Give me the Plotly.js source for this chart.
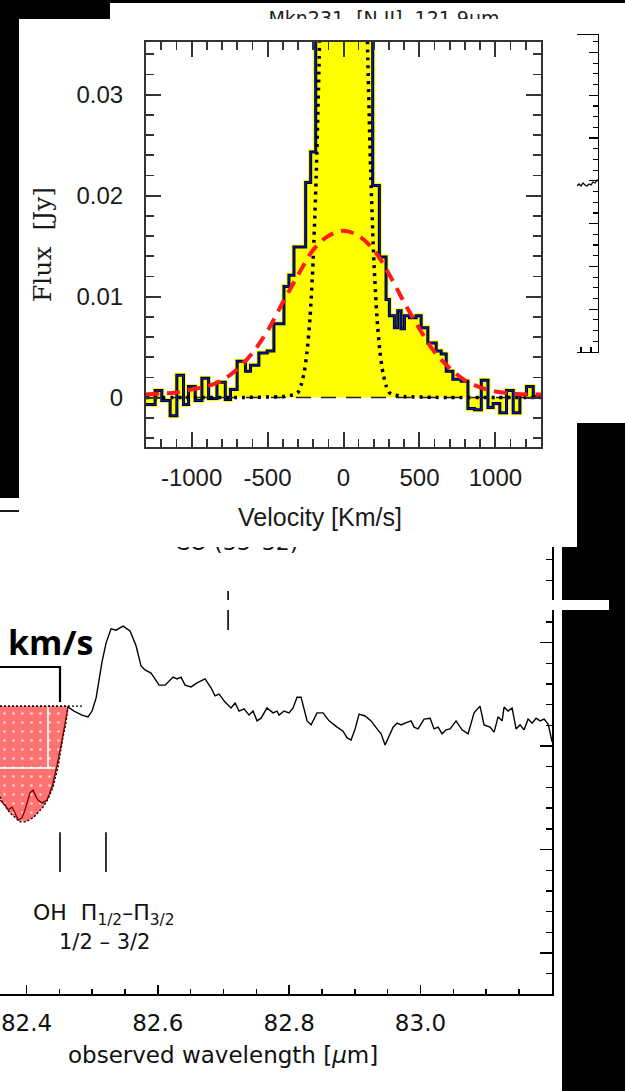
<!DOCTYPE html>
<html><head><meta charset="utf-8">
<script src="https://cdn.plot.ly/plotly-3.0.1.min.js"></script>
<style>html,body{margin:0;padding:0;background:#fff;}#chart{width:625px;height:1091px;}</style>
</head><body><div id="chart"></div>
<script>
// ===== Inset: Mkn231 [N II] 121.9um line profile =====
const histVelocity = [-1300,-1240,-1196,-1141,-1097,-1053,-1020,-976,-932,-888,-833,-778,-744,-700,-645,-612,-557,-502,-458,-392,-359,-326,-249,-216,-183,-140,-95,-50,0,50,95,140,192,236,280,302,335,357,379,401,434,478,511,555,610,643,676,720,775,819,863,907,951,985,1029,1073,1117,1161,1205,1249,1300];
const histFlux = [-0.0007,0.0007,-0.0003,-0.0018,0.0022,-0.0007,0.0011,-0.0003,0.0019,-0.0001,0.0015,-0.0002,0.0008,0.0036,0.0026,0.0032,0.0044,0.0046,0.0073,0.0110,0.0121,0.0149,0.0213,0.0243,0.048,0.085,0.13,0.16,0.16,0.13,0.09,0.05,0.0210,0.0139,0.0097,0.0081,0.0069,0.0086,0.0068,0.0081,0.0079,0.0081,0.0069,0.0054,0.0046,0.0043,0.0026,0.0018,0.0016,-0.0011,-0.0012,0.0017,-0.0010,-0.0006,-0.0015,0.0007,-0.0015,0.0003,0.0011,0.0001,0.0001];
const broadVelocity = [-1300,-1200,-1100,-1000,-900,-800,-700,-600,-500,-400,-300,-200,-100,0,100,200,300,400,500,600,700,800,900,1000,1100,1200,1300];
const broadFlux = [0.0003,0.0004,0.0005,0.0008,0.0011,0.0017,0.0028,0.0044,0.0066,0.0094,0.0121,0.0146,0.0160,0.0165,0.0160,0.0146,0.0122,0.0094,0.0068,0.0045,0.0029,0.0017,0.0010,0.0006,0.0004,0.0003,0.0003];
const narrowVelocity = [-1300,-1000,-700,-400,-320,-300,-280,-260,-240,-220,-200,-180,-160,-140,-120,-100,100,120,140,160,180,200,220,240,260,280,300,320,400,700,1000,1300];
const narrowFlux = [0,0,0,0.0001,0.0003,0.0005,0.0012,0.0024,0.0045,0.0080,0.0135,0.0218,0.0335,0.050,0.069,0.089,0.089,0.069,0.050,0.0335,0.0218,0.0135,0.0080,0.0045,0.0024,0.0012,0.0005,0.0003,0.0001,0,0,0];
const zeroVelocity = [-1300, 1300];
const zeroFlux = [0, 0];
const insetXTicks = [-1000, -500, 0, 500, 1000];
const insetXTickText = ['-1000', '-500', '0', '500', '1000'];
const insetYTicks = [0, 0.01, 0.02, 0.03];
const insetYTickText = ['0', '0.01', '0.02', '0.03'];

// ===== Background spectrum: observed wavelength (um) vs normalised flux =====
const specWavelength = [82.4632,82.4724,82.4845,82.4937,82.4998,82.5059,82.5150,82.5211,82.5287,82.5363,82.5470,82.5577,82.5668,82.5744,82.5805,82.5896,82.5957,82.6018,82.6110,82.6171,82.6232,82.6292,82.6353,82.6414,82.6506,82.6597,82.6719,82.6810,82.6871,82.6932,82.7023,82.7115,82.7176,82.7237,82.7313,82.7389,82.7450,82.7511,82.7572,82.7663,82.7754,82.7815,82.7846,82.7922,82.7998,82.8059,82.8120,82.8181,82.8273,82.8334,82.8425,82.8516,82.8608,82.8730,82.8821,82.8882,82.8943,82.9004,82.9065,82.9156,82.9248,82.9339,82.9400,82.9461,82.9522,82.9583,82.9644,82.9705,82.9766,82.9857,82.9903,82.9963,83.0055,83.0146,83.0207,83.0268,83.0329,83.0390,83.0451,83.0542,83.0633,83.0725,83.0816,83.0907,83.0968,83.1060,83.1121,83.1182,83.1243,83.1273,83.1334,83.1395,83.1456,83.1517,83.1578,83.1639,83.1700,83.1761,83.1822,83.1883,83.1944,83.2005];
const specFlux = [0.642,0.633,0.624,0.620,0.633,0.662,0.743,0.785,0.817,0.814,0.823,0.812,0.779,0.734,0.725,0.718,0.705,0.691,0.691,0.700,0.709,0.705,0.709,0.691,0.687,0.696,0.705,0.685,0.667,0.671,0.653,0.640,0.651,0.633,0.638,0.624,0.633,0.611,0.617,0.640,0.629,0.633,0.624,0.633,0.629,0.640,0.664,0.664,0.611,0.602,0.629,0.629,0.611,0.597,0.588,0.573,0.568,0.593,0.626,0.622,0.611,0.593,0.582,0.557,0.577,0.597,0.606,0.602,0.606,0.611,0.597,0.593,0.615,0.617,0.593,0.597,0.582,0.591,0.593,0.611,0.591,0.582,0.629,0.644,0.602,0.597,0.586,0.620,0.611,0.642,0.633,0.640,0.593,0.602,0.591,0.615,0.606,0.617,0.611,0.615,0.604,0.564];
const absWavelength = [82.3596,82.3673,82.3718,82.3779,82.3825,82.3871,82.3931,82.3977,82.4053,82.4099,82.4145,82.4175,82.4236,82.4312,82.4388,82.4465,82.4541,82.4617,82.4632];
const absFlux = [0.434,0.423,0.412,0.418,0.405,0.389,0.394,0.412,0.450,0.456,0.441,0.434,0.427,0.434,0.463,0.512,0.568,0.629,0.642];
const absFitWavelength = [82.3596,82.4632,82.4602,82.4556,82.4480,82.4404,82.4327,82.4251,82.4099,82.3977,82.3901,82.3749,82.3642,82.3596];
const absFitFlux = [0.644,0.644,0.608,0.575,0.508,0.463,0.436,0.418,0.394,0.385,0.385,0.405,0.427,0.441];
const contWavelength = [82.3596, 82.4861];
const contFlux = [0.644, 0.644];
const bracketWavelength = [82.3596, 82.451, 82.451];
const bracketFlux = [0.7315, 0.7315, 0.653];
const ohLineWavelength = [82.451, 82.521];
const ohLineFlux = [0.362, 0.273];
const coLineWavelength = [82.707];
const coLineFlux = [0.9016, 0.8143];
const wlTicks = [82.4, 82.6, 82.8, 83.0];
const wlTickText = ['82.4', '82.6', '82.8', '83.0'];

// ===== Partially visible right-hand panel =====
const rightX = [0, 2, 4, 6, 8, 10, 12, 14, 16, 18, 20, 21];
const rightY = [166, 168, 166, 169, 167, 166, 168, 167, 170, 169, 172, 171];

// ---------- layout helpers (pixel -> paper) ----------
const W = 625, H = 1091;
const px = p => p / W;
const py = p => 1 - p / H;

const vlines = (xs, ys) => {
  const X = [], Y = [];
  xs.forEach(x => { X.push(x, x, null); Y.push(ys[0], ys[1], null); });
  return {X, Y};
};
const oh = vlines(ohLineWavelength, ohLineFlux);
const co = vlines(coLineWavelength, coLineFlux);

const traces = [
  // background spectrum (x, y)
  {x: absFitWavelength, y: absFitFlux, xaxis: 'x', yaxis: 'y', mode: 'lines', fill: 'toself',
   fillcolor: '#ff7272', fillpattern: {shape: '.', fgcolor: 'rgba(255,255,255,0.7)', bgcolor: '#ff7272', size: 9, solidity: 0.07},
   line: {color: '#000', width: 1.4, dash: '2px,2px'}, hoverinfo: 'skip'},
  {x: absWavelength, y: absFlux, xaxis: 'x', yaxis: 'y', mode: 'lines', line: {color: '#7a0000', width: 1.3}, hoverinfo: 'skip'},
  {x: contWavelength, y: contFlux, xaxis: 'x', yaxis: 'y', mode: 'lines', line: {color: '#000', width: 1.4, dash: '2px,2px'}, hoverinfo: 'skip'},
  {x: specWavelength, y: specFlux, xaxis: 'x', yaxis: 'y', mode: 'lines', line: {color: '#000', width: 1.4}, hoverinfo: 'skip'},
  {x: bracketWavelength, y: bracketFlux, xaxis: 'x', yaxis: 'y', mode: 'lines', line: {color: '#000', width: 2.2}, hoverinfo: 'skip'},
  {x: oh.X, y: oh.Y, xaxis: 'x', yaxis: 'y', mode: 'lines', line: {color: '#000', width: 1.6}, hoverinfo: 'skip'},
  {x: co.X, y: co.Y, xaxis: 'x', yaxis: 'y', mode: 'lines', line: {color: '#000', width: 1.6}, hoverinfo: 'skip'},
  {x: [82.7195], y: [1.005], xaxis: 'x', yaxis: 'y', mode: 'text', text: ['CO\u00a0(33\u201332)'], textposition: 'middle center',
   textfont: {family: 'DejaVu Sans', size: 22, color: '#111'}, cliponaxis: true, hoverinfo: 'skip'},

  // inset (x2, y2)
  {x: histVelocity, y: histFlux, xaxis: 'x2', yaxis: 'y2', mode: 'lines', line: {shape: 'hv', color: '#ffff00', width: 5}, fill: 'tozeroy', fillcolor: '#ffff00', hoverinfo: 'skip'},
  {x: histVelocity, y: histFlux, xaxis: 'x2', yaxis: 'y2', mode: 'lines', line: {shape: 'hv', color: '#000', width: 3}, hoverinfo: 'skip'},
  {x: histVelocity, y: histFlux, xaxis: 'x2', yaxis: 'y2', mode: 'lines', line: {shape: 'hv', color: '#0018c8', width: 1.2}, hoverinfo: 'skip'},
  {x: zeroVelocity, y: zeroFlux, xaxis: 'x2', yaxis: 'y2', mode: 'lines', line: {color: '#222', width: 1.3, dash: '15px,10px'}, hoverinfo: 'skip'},
  {x: narrowVelocity, y: narrowFlux, xaxis: 'x2', yaxis: 'y2', mode: 'lines', line: {color: '#000', width: 3.5, dash: '3px,5px', shape: 'spline', smoothing: 0.6}, hoverinfo: 'skip'},
  {x: broadVelocity, y: broadFlux, xaxis: 'x2', yaxis: 'y2', mode: 'lines', line: {color: '#ff1a1a', width: 4, dash: '13px,8px', shape: 'spline'}, hoverinfo: 'skip'},

  // right partial panel (x3, y3)
  {x: rightX, y: rightY, xaxis: 'x3', yaxis: 'y3', mode: 'lines', line: {color: '#000', width: 1.3}, hoverinfo: 'skip'},

  // clipped title of hidden panel (x4, y4)
  {x: [0.532], y: [-0.05], xaxis: 'x4', yaxis: 'y4', mode: 'text', text: ['Mkn231\u00a0\u00a0[N\u00a0II]\u00a0\u00a0121.9\u03bcm'],
   textposition: 'middle center', textfont: {family: 'DejaVu Sans', size: 19, color: '#222'}, cliponaxis: true, hoverinfo: 'skip'}
];

const axisFontInset = {family: 'Liberation Sans, Arial, sans-serif', size: 24, color: '#1a1a1a'};
const axisFontSpec = {family: 'DejaVu Sans, sans-serif', size: 23, color: '#111'};

const layout = {
  width: W, height: H, margin: {l: 0, r: 0, t: 0, b: 0},
  paper_bgcolor: '#fff', plot_bgcolor: 'rgba(0,0,0,0)', showlegend: false,
  // background spectrum
  xaxis: {domain: [0, px(552)], anchor: 'y', range: [82.3596, 83.2003], showline: true, linecolor: '#000', linewidth: 1.6,
    ticks: 'inside', ticklen: 9, tickwidth: 1.4, tickcolor: '#000', tickvals: wlTicks, ticktext: wlTickText,
    minor: {ticks: 'inside', ticklen: 5, tickwidth: 1.4, tickcolor: '#000', dtick: 0.05, tick0: 82.4},
    tickfont: axisFontSpec, ticklabelstandoff: 8, showgrid: false, zeroline: false, fixedrange: true},
  yaxis: {domain: [py(994), py(547)], anchor: 'x', side: 'right', range: [0, 1], showline: true, linecolor: '#000', linewidth: 1.6,
    ticks: 'inside', ticklen: 12, tickwidth: 1.4, tickcolor: '#000', tick0: 0.0917, dtick: 0.2315,
    minor: {ticks: 'inside', ticklen: 6, tickwidth: 1.4, tickcolor: '#000', dtick: 0.0463, tick0: 0.0917},
    showticklabels: false, showgrid: false, zeroline: false, fixedrange: true},
  // inset
  xaxis2: {domain: [px(146), px(541)], anchor: 'y2', range: [-1300, 1300], showline: true, linecolor: '#333', linewidth: 2, mirror: 'allticks',
    ticks: 'inside', ticklen: 15, tickwidth: 2, tickcolor: '#333', tickvals: insetXTicks, ticktext: insetXTickText,
    minor: {ticks: 'inside', ticklen: 8, tickwidth: 1.6, tickcolor: '#333', dtick: 100, tick0: 0},
    tickfont: axisFontInset, ticklabelstandoff: 8, showgrid: false, zeroline: false, fixedrange: true},
  yaxis2: {domain: [py(447), py(42)], anchor: 'x2', range: [-0.0049, 0.0352], showline: true, linecolor: '#333', linewidth: 2, mirror: 'allticks',
    ticks: 'inside', ticklen: 15, tickwidth: 2, tickcolor: '#333', tickvals: insetYTicks, ticktext: insetYTickText,
    minor: {ticks: 'inside', ticklen: 8, tickwidth: 1.6, tickcolor: '#333', dtick: 0.002, tick0: 0},
    tickfont: axisFontInset, ticklabelstandoff: 16, showgrid: false, zeroline: false, fixedrange: true},
  // right partial panel
  xaxis3: {domain: [px(577), px(598)], anchor: 'y3', range: [0, 21], showline: true, linecolor: '#000', linewidth: 1.4, mirror: true,
    ticks: 'inside', ticklen: 5, tickwidth: 1.2, tickcolor: '#000', tickvals: [4, 14], showticklabels: false, showgrid: false, zeroline: false, fixedrange: true},
  yaxis3: {domain: [py(352), py(35)], anchor: 'x3', side: 'right', range: [0, 317], showline: true, linecolor: '#000', linewidth: 1.4,
    ticks: 'inside', ticklen: 9, tickwidth: 1.2, tickcolor: '#000', tick0: 0, dtick: 42.8,
    minor: {ticks: 'inside', ticklen: 5, tickwidth: 1.2, tickcolor: '#000', dtick: 10.7, tick0: 0},
    showticklabels: false, showgrid: false, zeroline: false, fixedrange: true},
  // clip box for the hidden panel title
  xaxis4: {domain: [px(110), 1], anchor: 'y4', range: [0, 1], visible: false, fixedrange: true},
  yaxis4: {domain: [py(19), py(3)], anchor: 'x4', range: [0, 1], visible: false, fixedrange: true},

  shapes: [
    {type: 'rect', xref: 'paper', yref: 'paper', x0: 0, x1: 1, y0: py(3), y1: 1, fillcolor: '#000', line: {width: 0}, layer: 'below'},
    {type: 'rect', xref: 'paper', yref: 'paper', x0: 0, x1: px(110), y0: py(19), y1: 1, fillcolor: '#000', line: {width: 0}, layer: 'below'},
    {type: 'rect', xref: 'paper', yref: 'paper', x0: 0, x1: px(19), y0: py(498), y1: 1, fillcolor: '#000', line: {width: 0}, layer: 'below'},
    {type: 'rect', xref: 'paper', yref: 'paper', x0: px(577), x1: 1, y0: py(547), y1: py(423), fillcolor: '#000', line: {width: 0}, layer: 'below'},
    {type: 'rect', xref: 'paper', yref: 'paper', x0: px(562), x1: 1, y0: 0, y1: py(547), fillcolor: '#000', line: {width: 0}, layer: 'below'},
    {type: 'rect', xref: 'paper', yref: 'paper', x0: px(140), x1: px(609), y0: py(610), y1: py(600), fillcolor: '#fff', line: {width: 0}, layer: 'above'},
    {type: 'line', xref: 'paper', yref: 'paper', x0: 0, x1: px(19), y0: py(511), y1: py(511), line: {color: '#000', width: 1.8}, layer: 'above'},
    {type: 'line', xref: 'paper', yref: 'paper', x0: 0, x1: px(55), y0: py(768), y1: py(768), line: {color: 'rgba(255,255,255,0.85)', width: 2}, layer: 'above'},
    {type: 'line', xref: 'paper', yref: 'paper', x0: px(48), x1: px(48), y0: py(768), y1: py(707), line: {color: 'rgba(255,255,255,0.85)', width: 2}, layer: 'above'}
  ],
  annotations: [
    {text: 'Velocity [Km/s]', xref: 'paper', yref: 'paper', x: px(320), y: py(517), showarrow: false, xanchor: 'center', yanchor: 'middle',
     font: {family: 'Liberation Sans, Arial, sans-serif', size: 25, color: '#1a1a1a'}},
    {text: 'Flux  [Jy]', xref: 'paper', yref: 'paper', x: px(43), y: py(245), showarrow: false, textangle: -90, xanchor: 'center', yanchor: 'middle',
     font: {family: 'DejaVu Serif, serif', size: 25, color: '#1a1a1a'}},
    {text: 'observed wavelength [<i>\u03bc</i>m]', xref: 'paper', yref: 'paper', x: px(223), y: py(1055), showarrow: false, xanchor: 'center', yanchor: 'middle',
     font: {family: 'DejaVu Sans, sans-serif', size: 23, color: '#111'}},
    {text: 'OH  \u03a0<sub>1/2</sub>\u2013\u03a0<sub>3/2</sub>', xref: 'paper', yref: 'paper', x: px(104), y: py(914), showarrow: false, xanchor: 'center', yanchor: 'middle',
     font: {family: 'DejaVu Sans, sans-serif', size: 22, color: '#111'}},
    {text: '1/2 \u2013 3/2', xref: 'paper', yref: 'paper', x: px(104), y: py(942), showarrow: false, xanchor: 'center', yanchor: 'middle',
     font: {family: 'DejaVu Sans, sans-serif', size: 21, color: '#111'}},
    {text: '<b>km/s</b>', xref: 'paper', yref: 'paper', x: px(50), y: py(642), showarrow: false, xanchor: 'center', yanchor: 'middle',
     font: {family: 'Open Sans, sans-serif', size: 34, color: '#000'}}
  ]
};

Plotly.newPlot('chart', traces, layout, {staticPlot: true, displayModeBar: false});
</script></body></html>
